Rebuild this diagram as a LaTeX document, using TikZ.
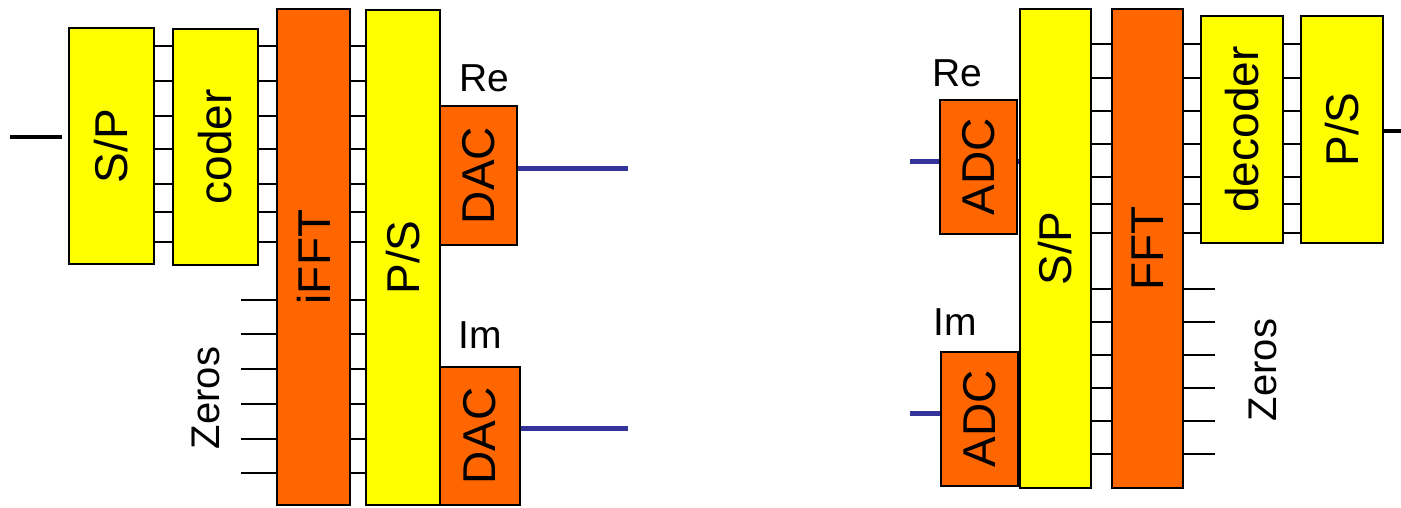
\documentclass[tikz,border=0pt]{standalone}
\usepackage{fontspec}
\setmainfont{Liberation Sans}
\usetikzlibrary{calc}
\definecolor{blkyellow}{HTML}{FFFF00}
\definecolor{blkorange}{HTML}{FF6600}
\definecolor{sigblue}{HTML}{333399}

\begin{document}
\begin{tikzpicture}[x=1pt, y=-1pt,
  blk/.style={draw, line width=2.5pt, inner sep=0pt, font=\fontsize{46}{50}\selectfont},
  yb/.style={blk, fill=blkyellow},
  ob/.style={blk, fill=blkorange},
  w/.style={line width=2pt},
  sig/.style={line width=5pt, draw=sigblue},
  bit/.style={line width=4.5pt},
  lb/.style={font=\fontsize{39}{44}\selectfont, inner sep=0pt},
  zr/.style={font=\fontsize{40}{44}\selectfont, inner sep=0pt, rotate=90}]
  \useasboundingbox (0,0) rectangle (1401,507);
  % ---- Transmitter: S/P, coder, iFFT, P/S and the two DACs
  \node[yb, minimum width=85, minimum height=236] (spL)   at (111.5,146) {\rotatebox{90}{S/P}};
  \node[yb, minimum width=85, minimum height=236] (coder) at (215.5,147) {\rotatebox{90}{coder}};
  \node[ob, minimum width=73, minimum height=496] (ifft)  at (313.5,257) {\rotatebox{90}{iFFT}};
  \node[yb, minimum width=74, minimum height=495] (psL)   at (403,257.5) {\rotatebox{90}{P/S}};
  \node[ob, minimum width=77, minimum height=139] (dacRe) at (478.5,175.5) {\rotatebox{90}{DAC}};
  \node[ob, minimum width=80, minimum height=138] (dacIm) at (480,436) {\rotatebox{90}{DAC}};
  \node[lb] (reL) at (484,78)  {Re};
  \node[lb] (imL) at (480,335) {Im};
  \node[zr] (zeroL) at (206,398) {Zeros};
  % parallel lines between the blocks
  \foreach \y in {46,81,116,149,184,212,242} {
    \draw[w] (spL.east |- 0,\y)   -- (coder.west |- 0,\y);
    \draw[w] (coder.east |- 0,\y) -- (ifft.west |- 0,\y);
    \draw[w] (ifft.east |- 0,\y)  -- (psL.west |- 0,\y);
  }
  % zero carriers into the iFFT
  \foreach \y in {300,334,369,404,439,473} {
    \draw[w] ([xshift=-35]ifft.west |- 0,\y) -- (ifft.west |- 0,\y);
    \draw[w] (ifft.east |- 0,\y) -- (psL.west |- 0,\y);
  }
  \coordinate (txin) at (10,137);
  \draw[bit, shorten >=6pt] (txin) -- (spL.west |- txin);
  \coordinate (txre) at (628,168);
  \coordinate (txim) at (628,428);
  \draw[sig] (dacRe.east |- txre) -- (txre);
  \draw[sig] (dacIm.east |- txim) -- (txim);

  % ---- Receiver: ADCs, S/P, FFT, decoder and P/S
  \node[ob, minimum width=77, minimum height=134] (adcRe) at (978.5,167) {\rotatebox{90}{ADC}};
  \node[ob, minimum width=77, minimum height=134] (adcIm) at (979.5,419) {\rotatebox{90}{ADC}};
  \node[yb, minimum width=71, minimum height=479] (spR)   at (1055.5,248.5) {\rotatebox{90}{S/P}};
  \node[ob, minimum width=71, minimum height=479] (fft)   at (1147.5,248.5) {\rotatebox{90}{FFT}};
  \node[yb, minimum width=82, minimum height=227] (dec)   at (1242,129.5) {\rotatebox{90}{decoder}};
  \node[yb, minimum width=82, minimum height=227] (psR)   at (1342,129.5) {\rotatebox{90}{P/S}};
  \node[lb] (reR) at (957,73)  {Re};
  \node[lb] (imR) at (955,322) {Im};
  \node[zr] (zeroR) at (1263,370) {Zeros};
  \foreach \y in {44,78,111,144,177,204,233} {
    \draw[w] (spR.east |- 0,\y) -- (fft.west |- 0,\y);
    \draw[w] (fft.east |- 0,\y) -- (dec.west |- 0,\y);
    \draw[w] (dec.east |- 0,\y) -- (psR.west |- 0,\y);
  }
  % carriers that are dropped after the FFT
  \foreach \y in {289,322,355,388,421,454} {
    \draw[w] (spR.east |- 0,\y) -- (fft.west |- 0,\y);
    \draw[w] (fft.east |- 0,\y) -- ([xshift=31]fft.east |- 0,\y);
  }
  \coordinate (rxre) at (910,161);
  \coordinate (rxim) at (910,413);
  \draw[sig] (rxre) -- (adcRe.west |- rxre);
  \draw[sig] (adcRe.east |- rxre) -- (spR.west |- rxre);
  \draw[sig] (rxim) -- (adcIm.west |- rxim);
  \coordinate (rxout) at (1401,131);
  \draw[bit] (psR.east |- rxout) -- (rxout);
\end{tikzpicture}
\end{document}
